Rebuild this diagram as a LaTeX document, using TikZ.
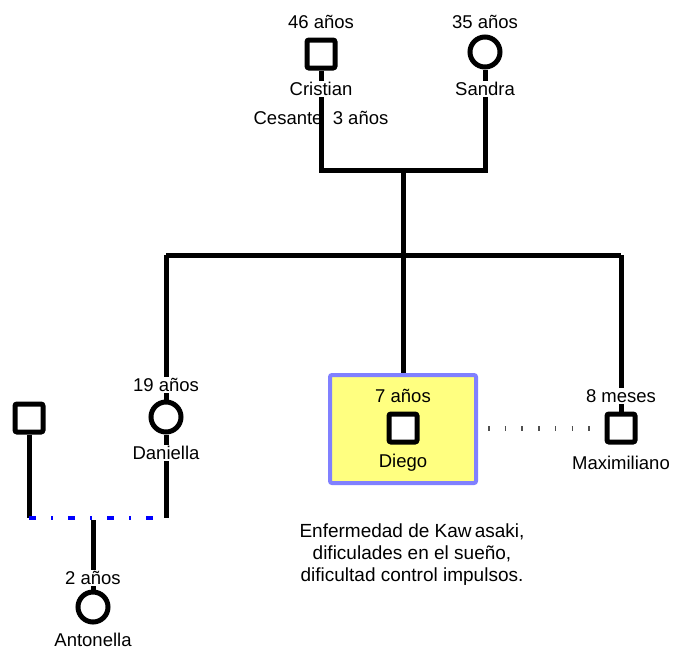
\documentclass[tikz,border=0pt]{standalone}
\usepackage{fontspec}
\setmainfont{Liberation Sans}
\pgfdeclarelayer{background}
\pgfsetlayers{background,main}
\definecolor{boxfill}{RGB}{255,255,128}
\definecolor{boxline}{RGB}{128,128,255}
\definecolor{dotgray}{RGB}{80,80,80}
\begin{document}
\begin{tikzpicture}[x=1pt,y=-1pt,
  every node/.style={font=\fontsize{18.5}{22}\selectfont},
  male/.style={draw,line width=5pt,rounded corners=2pt,minimum size=28pt,fill=white,inner sep=0pt},
  female/.style={draw,circle,line width=5pt,minimum size=30pt,fill=white,inner sep=0pt},
  lbl/.style={fill=white,inner sep=1pt},
  plain/.style={inner sep=1pt},
  link/.style={line width=5pt},
  exlink/.style={line width=4.5pt,blue,dash pattern=on 7pt off 15pt on 2pt off 15pt},
  dotlink/.style={line width=5pt,dotgray,dash pattern=on 1.5pt off 15.2pt},
  focusbox/.style={draw=boxline,fill=boxfill,line width=4pt,rounded corners=2pt,minimum width=146pt,minimum height=108pt,inner sep=0pt}]
\useasboundingbox (0,0) rectangle (674,654);

% Parents
\node[male] (cristian) at (321,54) {};
\node[lbl] (cristianage) at (321,22) {46 años};
\node[lbl] (cristianname) at (321,89) {Cristian};
\node[female] (sandra) at (485,52) {};
\node[lbl] (sandraage) at (485,22) {35 años};
\node[lbl] (sandraname) at (485,89) {Sandra};

% Children
\node[female] (daniella) at (166,417) {};
\node[lbl] (daniellaage) at (166,385) {19 años};
\node[lbl] (daniellaname) at (166,453) {Daniella};

\node[focusbox] (dbox) at (403,429) {};
\node[male] (diego) at (403,428) {};
\node[plain] (diegoage) at (403,396) {7 años};
\node[plain] (diegoname) at (403,463) {Diego};

\node[male] (maxi) at (621,428) {};
\node[lbl] (maxiage) at (621,396) {8 meses};
\node[lbl] (maxiname) at (621,463) {Maximiliano};

% Daniella's partner and daughter
\node[male] (partner) at (29,418) {};
\node[female] (antonella) at (93,607) {};
\node[lbl] (antonellaage) at (93,578) {2 años};
\node[lbl] (antonellaname) at (93,640) {Antonella};

\node[plain,align=center,font=\fontsize{19}{22}\selectfont] (notes) at (412,555) {Enfermedad de Kaw\,asaki,\\dificulades en el sueño,\\dificultad control impulsos.};

% junction coordinates
\coordinate (cj) at (321,170);
\coordinate (sj) at (485,170);
\coordinate (mid) at (403,170);
\coordinate (midlow) at (403,255);
\coordinate (lft) at (166,255);
\coordinate (rgt) at (621,255);
\coordinate (dj) at (166,518);
\coordinate (pj) at (29,518);
\coordinate (aj) at (93,520);
\coordinate (dotstart) at (488,428);

\begin{pgfonlayer}{background}
\node[plain] (cesante) at (321,118) {Cesante\ \ 3 años};
\draw[link] (cristian.south) -- (cj) -- (sj) -- (sandra.south);
\draw[link] (mid) -- (midlow);
\draw[link] (lft) -- (rgt);
\draw[link] (lft) -- (daniella.north);
\draw[link] (midlow) -- (dbox.north);
\draw[link] (rgt) -- (maxi.north);
\draw[link] (daniella.south) -- (dj);
\draw[link] (partner.south) -- (pj);
\draw[link] (aj) -- (antonella.north);
\draw[dotlink] (dotstart) -- (maxi.west);
\end{pgfonlayer}
\draw[link] (321,100) -- (321,135);
\draw[exlink] (pj) -- (dj);
\end{tikzpicture}
\end{document}
